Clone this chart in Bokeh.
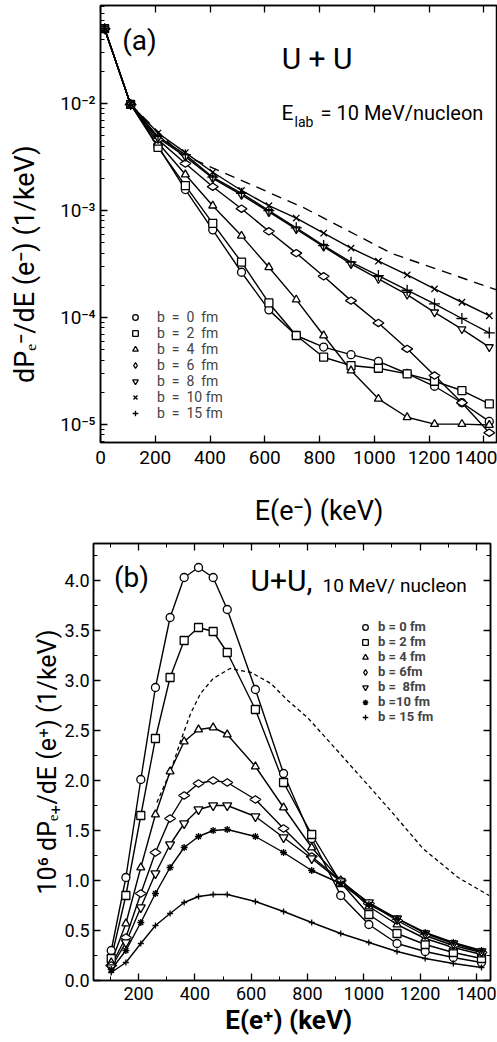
import math
from bokeh.plotting import figure
from bokeh.models import (LinearAxis, FixedTicker, CustomJSTickFormatter, Label,
                          Legend, LegendItem, Range1d, PrintfTickFormatter)
from bokeh.layouts import column, row
from bokeh.embed import file_html
from bokeh.resources import INLINE

FONT = "Roboto"
NB = "\u00a0"

# ---------------- panel (a): electrons, log scale ----------------
EA = [15, 110, 210, 310, 410, 515, 615, 715, 815, 915, 1015, 1120, 1220, 1320, 1420]
a_b0 = [5.0e-2, 9.8e-3, 4.0e-3, 1.57e-3, 6.6e-4, 2.65e-4, 1.18e-4, 6.8e-5, 5.3e-5, 4.5e-5, 3.9e-5, 3.0e-5, 2.28e-5, 1.6e-5, 1.07e-5]
a_b2 = [5.0e-2, 9.8e-3, 3.9e-3, 1.71e-3, 7.6e-4, 3.29e-4, 1.37e-4, 6.8e-5, 4.26e-5, 3.56e-5, 3.36e-5, 2.98e-5, 2.54e-5, 2.08e-5, 1.56e-5]
a_b4 = [5.0e-2, 9.8e-3, 4.3e-3, 2.17e-3, 1.11e-3, 5.8e-4, 2.95e-4, 1.47e-4, 6.8e-5, 3.2e-5, 1.74e-5, 1.17e-5, 1.01e-5, 1.01e-5, 9.9e-6]
a_b6 = [5.0e-2, 9.8e-3, 4.6e-3, 2.75e-3, 1.67e-3, 1.04e-3, 6.4e-4, 4.0e-4, 2.43e-4, 1.44e-4, 8.9e-5, 5.1e-5, 2.87e-5, 1.6e-5, 8.4e-6]
a_b8 = [5.0e-2, 9.8e-3, 4.8e-3, 3.19e-3, 2.0e-3, 1.40e-3, 9.7e-4, 6.7e-4, 4.6e-4, 3.17e-4, 2.3e-4, 1.64e-4, 1.12e-4, 7.8e-5, 5.3e-5]
a_b10 = [5.0e-2, 9.8e-3, 5.3e-3, 3.48e-3, 2.28e-3, 1.54e-3, 1.11e-3, 8.5e-4, 6.14e-4, 4.45e-4, 3.36e-4, 2.5e-4, 1.85e-4, 1.39e-4, 1.04e-4]
a_b15 = [5.0e-2, 9.8e-3, 4.9e-3, 3.33e-3, 2.05e-3, 1.45e-3, 1.0e-3, 6.9e-4, 4.71e-4, 3.29e-4, 2.47e-4, 1.8e-4, 1.34e-4, 9.8e-5, 7.2e-5]
EA_dash = [110, 290, 740, 1065, 1450]
a_dash = [9.8e-3, 3.41e-3, 1.07e-3, 3.96e-4, 1.8e-4]
a_labels = ["b  =  0  fm", "b  =  2  fm", "b  =  4  fm", "b  =  6  fm", "b  =  8  fm", "b  =  10 fm", "b  =  15 fm"]
a_xticks = [0, 200, 400, 600, 800, 1000, 1200, 1400]
a_yticks = [1e-5, 1e-4, 1e-3, 1e-2]

# ---------------- panel (b): positrons, linear scale ----------------
EB = [103, 155, 208, 260, 312, 362, 413, 465, 515, 615, 715, 815, 918, 1018, 1118, 1218, 1318, 1418]
b_b0 = [0.30, 1.03, 2.01, 2.93, 3.63, 4.03, 4.13, 4.03, 3.71, 2.91, 2.07, 1.42, 0.85, 0.56, 0.37, 0.29, 0.23, 0.18]
b_b2 = [0.22, 0.85, 1.65, 2.42, 3.03, 3.40, 3.53, 3.49, 3.28, 2.71, 1.98, 1.46, 0.98, 0.66, 0.47, 0.36, 0.28, 0.22]
b_b4 = [0.18, 0.57, 1.13, 1.66, 2.09, 2.39, 2.51, 2.53, 2.46, 2.14, 1.73, 1.33, 1.00, 0.74, 0.56, 0.42, 0.33, 0.26]
b_b6 = [0.15, 0.43, 0.87, 1.28, 1.62, 1.85, 1.97, 2.00, 1.98, 1.81, 1.52, 1.24, 1.00, 0.77, 0.60, 0.45, 0.35, 0.28]
b_b8 = [0.13, 0.38, 0.73, 1.07, 1.36, 1.57, 1.71, 1.75, 1.75, 1.64, 1.43, 1.22, 0.99, 0.78, 0.62, 0.47, 0.37, 0.29]
b_b10 = [0.11, 0.30, 0.58, 0.87, 1.13, 1.33, 1.44, 1.50, 1.51, 1.44, 1.28, 1.10, 0.97, 0.76, 0.62, 0.48, 0.38, 0.30]
b_b15 = [0.08, 0.18, 0.37, 0.55, 0.67, 0.78, 0.84, 0.86, 0.86, 0.79, 0.69, 0.58, 0.47, 0.38, 0.29, 0.22, 0.17, 0.13]
EB_dash = [265, 315, 350, 385, 420, 465, 525, 600, 670, 730, 800, 915, 1095, 1210, 1335, 1445]
b_dash = [1.78, 2.10, 2.40, 2.67, 2.87, 3.02, 3.12, 3.08, 2.97, 2.80, 2.63, 2.27, 1.70, 1.32, 1.03, 0.85]
b_labels = ["b = 0 fm", "b = 2 fm", "b = 4 fm", "b = 6fm", "b =  8fm", "b =10 fm", "b = 15 fm"]
b_xticks = [200, 400, 600, 800, 1000, 1200, 1400]
b_xminor = [100, 300, 500, 700, 900, 1100, 1300]
b_yticks = [0.0, 0.5, 1.0, 1.5, 2.0, 2.5, 3.0, 3.5, 4.0]
b_yminor = [0.25, 0.75, 1.25, 1.75, 2.25, 2.75, 3.25, 3.75, 4.25]

BLANK = CustomJSTickFormatter(code="return '';")
SUP = CustomJSTickFormatter(code="""
const m = {"-":"\u207b","0":"\u2070","1":"\u00b9","2":"\u00b2","3":"\u00b3","4":"\u2074",
           "5":"\u2075","6":"\u2076","7":"\u2077","8":"\u2078","9":"\u2079"};
const e = Math.round(Math.log10(tick));
let s = "";
for (const c of String(e)) { s += m[c]; }
return "10" + s;
""")


def style_axis(ax, label_size):
    ax.axis_line_color = "black"
    ax.axis_line_width = 1.5
    ax.major_tick_in = 7
    ax.major_tick_out = 0
    ax.minor_tick_in = 4
    ax.minor_tick_out = 0
    ax.major_tick_line_width = 1.3
    ax.minor_tick_line_width = 1.0
    ax.major_label_text_font = FONT
    ax.major_label_text_font_size = label_size
    ax.major_label_text_color = "black"
    ax.axis_label_text_font = FONT
    ax.axis_label_text_font_style = "normal"
    ax.axis_label_text_color = "black"


def blank_axis(ax):
    style_axis(ax, "0px")
    ax.formatter = BLANK
    ax.major_label_standoff = 0


def add_text(p, fl, fb, px, py, text, size, align="left", style="normal"):
    p.add_layout(Label(x=px - fl, y=fb - py, x_units="screen", y_units="screen", text=text,
                       text_font=FONT, text_font_size=f"{size}px", text_align=align,
                       text_baseline="middle", text_font_style=style, text_color="black"))


# ======================= panel (a) =======================
pa = figure(width=497, height=530, x_range=Range1d(0, 1450), y_range=Range1d(6.8e-6, 0.0824),
            y_axis_type="log", output_backend="svg", toolbar_location=None,
            min_border_left=100, min_border_right=0, min_border_top=5, min_border_bottom=88)
pa.grid.visible = False
pa.outline_line_color = "black"
pa.outline_line_width = 1.5

a_minor = [m * 10.0 ** e for e in range(-6, -1) for m in range(2, 10)]
ya_ticker = FixedTicker(ticks=a_yticks, minor_ticks=a_minor)
xa_ticker = FixedTicker(ticks=a_xticks, minor_ticks=[])

pa.xaxis.ticker = xa_ticker
pa.yaxis.ticker = ya_ticker
pa.yaxis.formatter = SUP
for ax in pa.xaxis + pa.yaxis:
    style_axis(ax, "19px")
pa.xaxis.major_label_standoff = 8
pa.yaxis.major_label_standoff = 5
pa.xaxis.axis_label = NB * 6 + "E(e\u207b) (keV)"
pa.xaxis.axis_label_text_font_size = "27px"
pa.xaxis.axis_label_standoff = 28
pa.yaxis.axis_label = "dP\u2091\u207b/dE (e\u207b) (1/keV)" + NB * 12
pa.yaxis.axis_label_text_font_size = "27px"
pa.yaxis.axis_label_standoff = 16

top_a = LinearAxis(ticker=xa_ticker)
blank_axis(top_a)
pa.add_layout(top_a, "above")

pa.line(EA_dash, a_dash, line_color="black", line_width=1.4, line_dash="10 7")

a_series = [a_b0, a_b2, a_b4, a_b6, a_b8, a_b10, a_b15]
a_markers = ["circle", "square", "triangle", "diamond", "inverted_triangle", "x", "cross"]
a_sizes = [8, 8, 8, 11, 8, 9, 11]
a_angles = [0, 0, 0, math.pi / 2, 0, 0, 0]
for vals in a_series:
    pa.line(EA, vals, line_color="black", line_width=1.4)
items = []
for vals, mk, sz, ang, lab in zip(a_series, a_markers, a_sizes, a_angles, a_labels):
    r = pa.scatter(EA, vals, marker=mk, size=sz, angle=ang, fill_color="white",
                   line_color="black", line_width=1.3)
    items.append(LegendItem(label=lab, renderers=[r]))
leg_a = Legend(items=items, location=(27, 21), background_fill_alpha=0, border_line_color=None,
               label_text_font=FONT, label_text_font_size="14px",
               glyph_width=16, glyph_height=14, label_height=14, spacing=0, label_standoff=14,
               padding=0, margin=0)
pa.add_layout(leg_a)

FL_A, FB_A = 100, 442
add_text(pa, FL_A, FB_A, 139, 40, "(a)", 28, align="center")
add_text(pa, FL_A, FB_A, 324, 58, "U  +  U", 30, align="center")
add_text(pa, FL_A, FB_A, 281, 112, "E", 21)
add_text(pa, FL_A, FB_A, 294, 121, "lab", 14)
add_text(pa, FL_A, FB_A, 320, 112, "= 10 MeV/nucleon", 20)

# ======================= panel (b) =======================
pb = figure(width=497, height=512, x_range=Range1d(40, 1450), y_range=Range1d(0, 4.37),
            output_backend="svg", toolbar_location=None,
            min_border_left=93, min_border_right=7, min_border_top=13, min_border_bottom=62)
pb.grid.visible = False
pb.outline_line_color = "black"
pb.outline_line_width = 1.5

xb_ticker = FixedTicker(ticks=b_xticks, minor_ticks=b_xminor)
yb_ticker = FixedTicker(ticks=b_yticks, minor_ticks=b_yminor)
pb.xaxis.ticker = xb_ticker
pb.yaxis.ticker = yb_ticker
pb.yaxis.formatter = PrintfTickFormatter(format="%.1f")
for ax in pb.xaxis + pb.yaxis:
    style_axis(ax, "18px")
pb.xaxis.major_label_standoff = 6
pb.yaxis.major_label_standoff = 4
pb.xaxis.axis_label = "E(e\u207a)  (keV)"
pb.xaxis.axis_label_text_font_size = "26px"
pb.xaxis.axis_label_text_font_style = "bold"
pb.xaxis.axis_label_standoff = 2
pb.yaxis.axis_label = "10\u2076 dP\u2091\u208a/dE (e\u207a) (1/keV)"
pb.yaxis.axis_label_text_font_size = "25px"
pb.yaxis.axis_label_standoff = 0

top_b = LinearAxis(ticker=xb_ticker)
blank_axis(top_b)
pb.add_layout(top_b, "above")
right_b = LinearAxis(ticker=yb_ticker)
blank_axis(right_b)
pb.add_layout(right_b, "right")

pb.line(EB_dash, b_dash, line_color="black", line_width=1.3, line_dash="4 3")

b_series = [b_b0, b_b2, b_b4, b_b6, b_b8, b_b10, b_b15]
b_markers = ["circle", "square", "triangle", "diamond", "inverted_triangle", "asterisk", "cross"]
b_sizes = [8, 8, 8, 11, 9, 7, 6]
b_angles = [0, 0, 0, math.pi / 2, 0, 0, 0]
for vals in b_series:
    pb.line(EB, vals, line_color="black", line_width=1.4)
items_b = []
for vals, mk, sz, ang, lab in zip(b_series, b_markers, b_sizes, b_angles, b_labels):
    r = pb.scatter(EB, vals, marker=mk, size=sz, angle=ang, fill_color="white",
                   line_color="black", line_width=1.3)
    items_b.append(LegendItem(label=lab, renderers=[r]))
leg_b = Legend(items=items_b, location=(265, 256), background_fill_alpha=0, border_line_color=None,
               label_text_font=FONT, label_text_font_size="13px", label_text_font_style="bold",
               glyph_width=14, glyph_height=14, label_height=14,
               spacing=0, label_standoff=6, padding=0, margin=0)
pb.add_layout(leg_b)

FL_B, FB_B = 93, 980 - 530
add_text(pb, FL_B, FB_B, 131, 577 - 530, "(b)", 28, align="center")
add_text(pb, FL_B, FB_B, 250, 580 - 530, "U+U,", 30)
add_text(pb, FL_B, FB_B, 322, 585 - 530, "10 MeV/ nucleon", 19)

layout = column(pa, row(pb))
open("out.html", "w").write(file_html(layout, INLINE))
